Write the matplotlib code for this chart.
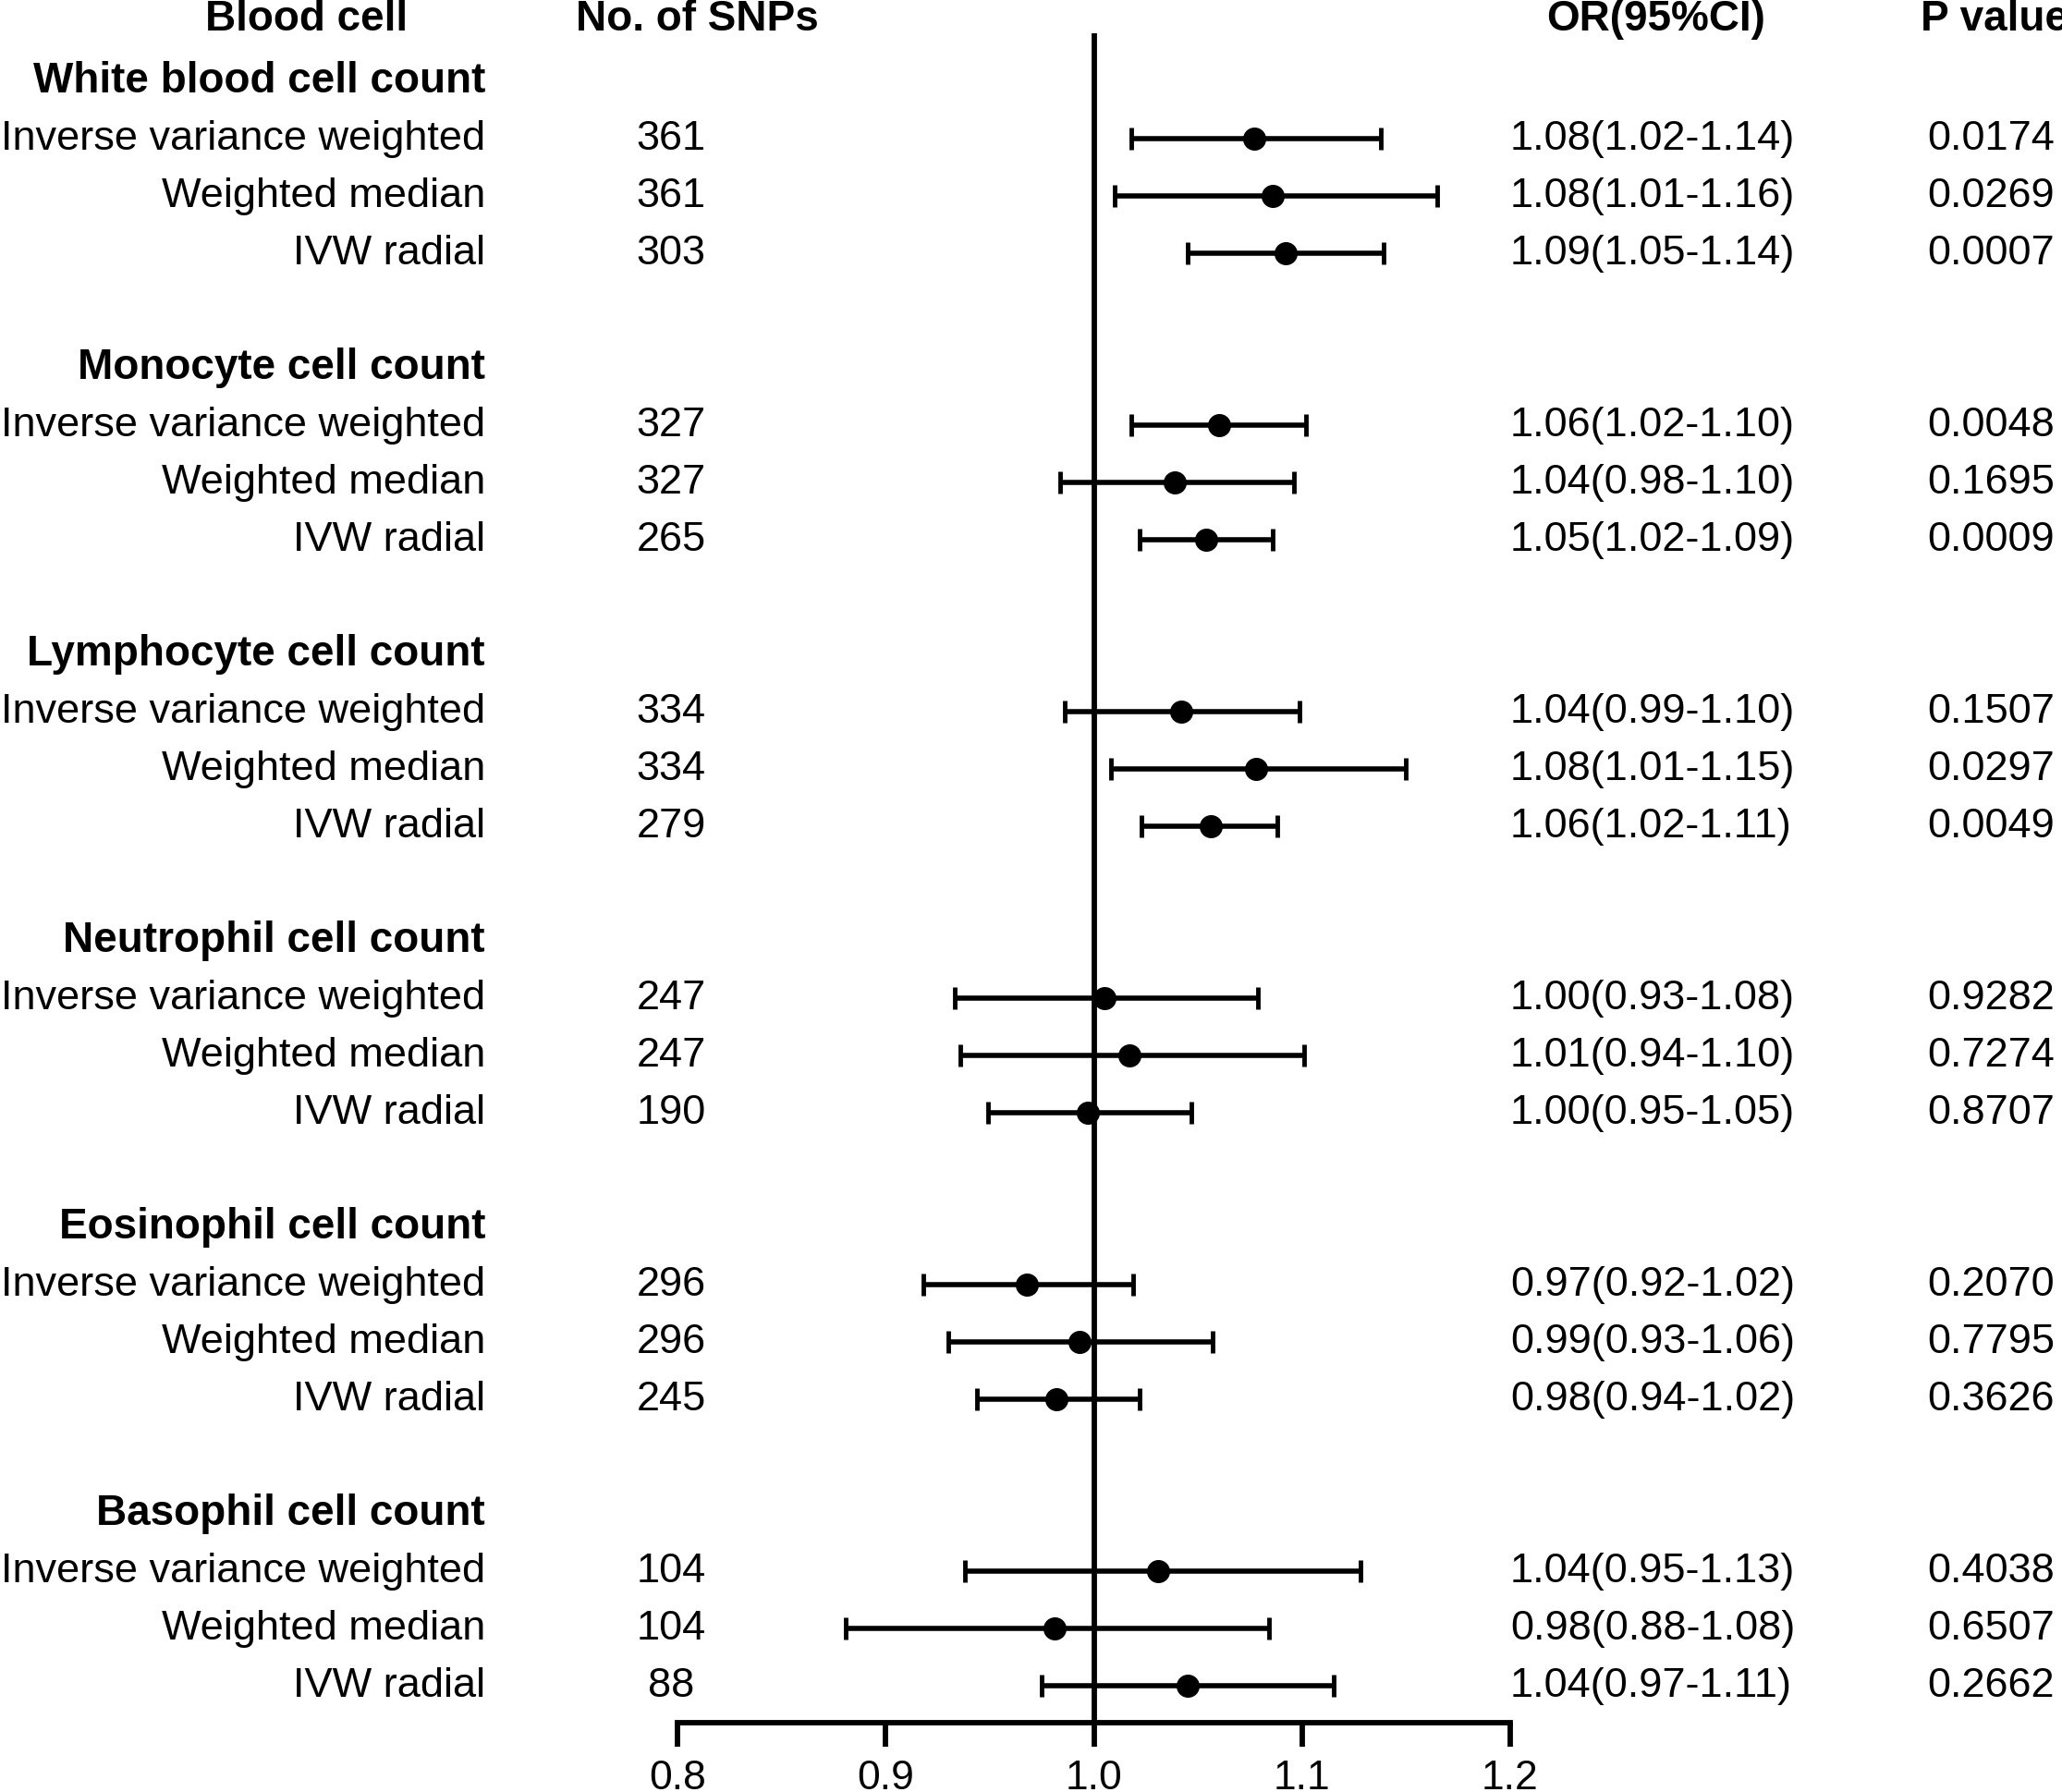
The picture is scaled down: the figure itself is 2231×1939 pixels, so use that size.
import matplotlib
matplotlib.use("Agg")
import matplotlib.pyplot as plt
import matplotlib.transforms as mtransforms

plt.rcParams['font.family'] = ['Liberation Sans', 'DejaVu Sans']

# --- data ------------------------------------------------------------------
groups = ['White blood cell count', 'Monocyte cell count', 'Lymphocyte cell count',
          'Neutrophil cell count', 'Eosinophil cell count', 'Basophil cell count']
methods = ['Inverse variance weighted', 'Weighted median', 'IVW radial']

n_snps = [361, 361, 303, 327, 327, 265, 334, 334, 279,
          247, 247, 190, 296, 296, 245, 104, 104, 88]

or_est = [1.077, 1.086, 1.092, 1.060, 1.039, 1.054, 1.042, 1.078, 1.056,
          1.005, 1.017, 0.997, 0.968, 0.993, 0.982, 1.031, 0.981, 1.045]
ci_low = [1.018, 1.010, 1.045, 1.018, 0.984, 1.022, 0.986, 1.008, 1.023,
          0.933, 0.936, 0.949, 0.918, 0.930, 0.944, 0.938, 0.881, 0.975]
ci_high = [1.138, 1.165, 1.139, 1.102, 1.096, 1.086, 1.099, 1.150, 1.088,
           1.079, 1.101, 1.047, 1.019, 1.057, 1.022, 1.128, 1.084, 1.115]

or_text = ['1.08(1.02-1.14)', '1.08(1.01-1.16)', '1.09(1.05-1.14)',
           '1.06(1.02-1.10)', '1.04(0.98-1.10)', '1.05(1.02-1.09)',
           '1.04(0.99-1.10)', '1.08(1.01-1.15)', '1.06(1.02-1.11)',
           '1.00(0.93-1.08)', '1.01(0.94-1.10)', '1.00(0.95-1.05)',
           '0.97(0.92-1.02)', '0.99(0.93-1.06)', '0.98(0.94-1.02)',
           '1.04(0.95-1.13)', '0.98(0.88-1.08)', '1.04(0.97-1.11)']
p_values = ['0.0174', '0.0269', '0.0007', '0.0048', '0.1695', '0.0009',
            '0.1507', '0.0297', '0.0049', '0.9282', '0.7274', '0.8707',
            '0.2070', '0.7795', '0.3626', '0.4038', '0.6507', '0.2662']

x_ticks = [0.8, 0.9, 1.0, 1.1, 1.2]
x_ticklabels = ['0.8', '0.9', '1.0', '1.1', '1.2']

# --- layout -----------------------------------------------------------------
W, H = 2231, 1939
fig = plt.figure(figsize=(W / 100, H / 100), dpi=100)
ax = fig.add_axes([733 / W, 75 / H, 901 / W, 1828 / H])

# each group takes 5 slots: header, 3 methods, blank
row_y, header_y = [], []
for g in range(len(groups)):
    header_y.append(5 * g)
    for m in range(len(methods)):
        row_y.append(5 * g + 1 + m)

ax.axvline(1.0, color='black', lw=4.2, zorder=1)
ax.errorbar(or_est, row_y,
            xerr=[[e - l for e, l in zip(or_est, ci_low)],
                  [h - e for e, h in zip(or_est, ci_high)]],
            fmt='o', color='black', ms=17, elinewidth=4,
            capsize=8.3, capthick=3.5, zorder=3)

ax.set_xlim(0.8, 1.2)
ax.set_ylim(28.645, -0.839)
ax.set_xticks(x_ticks)
ax.set_xticklabels(x_ticklabels)
ax.set_yticks([])
for side in ['top', 'left', 'right']:
    ax.spines[side].set_visible(False)
ax.spines['bottom'].set_linewidth(4.2)
ax.tick_params(axis='x', length=19, width=4.2, labelsize=32, pad=10)

# --- text columns -----------------------------------------------------------
tr = mtransforms.blended_transform_factory(fig.transFigure, ax.transData)

def put(xpx, y, s, ha, bold=False):
    ax.text(xpx / W, y, s, transform=tr, ha=ha, va='center',
            fontsize=33 if bold else 32.5,
            fontweight='bold' if bold else 'normal', clip_on=False)

top = -1.08
put(332, top, 'Blood cell', 'center', True)
put(754, top, 'No. of SNPs', 'center', True)
put(1673, top, 'OR(95%CI)', 'left', True)
put(2078, top, 'P value', 'left', True)

for g, y in zip(groups, header_y):
    put(525, y, g, 'right', True)

for i, y in enumerate(row_y):
    put(525, y, methods[i % 3], 'right')
    put(726, y, str(n_snps[i]), 'center')
    put(1634, y, or_text[i], 'left')
    put(2085, y, p_values[i], 'left')

fig.savefig('out.png', dpi=100)
